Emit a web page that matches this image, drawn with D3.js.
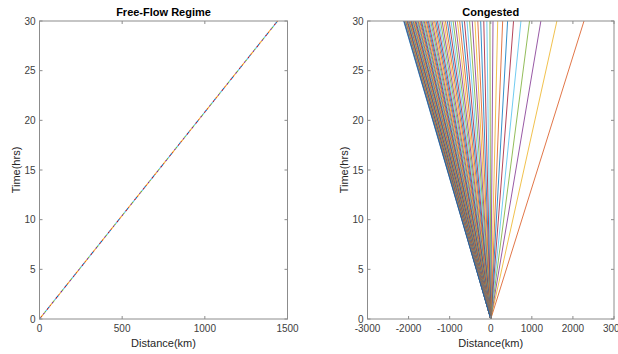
<!DOCTYPE html>
<html>
<head>
<meta charset="utf-8">
<script src="https://cdn.jsdelivr.net/npm/d3@7"></script>
<style>
  body { margin: 0; background: #fff; }
  svg { display: block; font-family: "Liberation Sans", Arial, sans-serif; }
</style>
</head>
<body>
<div id="chart"></div>
<script>
// MATLAB default colour order
const lineColors = ["#0072BD", "#D95319", "#EDB120", "#7E2F8E", "#77AC30", "#4DBEEE", "#A2142F"];

// free-flow: all trajectories lie on the same line, end point at t = 30
const freeFlowEnd = [1440, 30];
const freeFlowCount = 7;

// congested: distance reached at t = 30 for each characteristic (right to left)
const congestedEnds = [2270, 1610, 1220, 945, 735, 555, 410, 290, 170, 55,
  -20, -95, -170, -245, -315, -385, -450, -515, -578, -640, -700, -757, -812,
  -865, -916, -965, -1012, -1058, -1102, -1144, -1185, -1224, -1262, -1298,
  -1333, -1367, -1400, -1431, -1461, -1490, -1518, -1545, -1571, -1596, -1620,
  -1643, -1666, -1688, -1709, -1730, -1750, -1769, -1788, -1806, -1824, -1841,
  -1858, -1874, -1890, -1905, -1920, -1935, -1949, -1963, -1977, -1990, -2003,
  -2016, -2028, -2040, -2052, -2064, -2076, -2088, -2099, -2110, -2120];
const tEnd = 30;

const xTicksLeft = [0, 500, 1000, 1500];
const xTicksRight = [-3000, -2000, -1000, 0, 1000, 2000, 3000];
const yTicks = [0, 5, 10, 15, 20, 25, 30];

const svg = d3.select('#chart').append('svg')
  .attr('width', 618).attr('height', 354);

function drawAxes(g, x, y, xTicks, title) {
  const [xa, xb] = x.range();
  const [yb, ya] = y.range();
  g.append('rect')
    .attr('x', xa).attr('y', ya).attr('width', xb - xa).attr('height', yb - ya)
    .attr('fill', '#fff');
  return function finish() {
    const ax = g.append('g');
    ax.append('rect')
      .attr('x', xa).attr('y', ya).attr('width', xb - xa).attr('height', yb - ya)
      .attr('fill', 'none').attr('stroke', '#8c8c8c').attr('stroke-width', 1);
    // ticks inside, on all four sides
    xTicks.forEach(v => {
      ax.append('line').attr('x1', x(v)).attr('x2', x(v)).attr('y1', yb).attr('y2', yb - 3)
        .attr('stroke', '#8c8c8c');
      ax.append('line').attr('x1', x(v)).attr('x2', x(v)).attr('y1', ya).attr('y2', ya + 3)
        .attr('stroke', '#8c8c8c');
      ax.append('text').attr('x', x(v)).attr('y', yb + 13)
        .attr('text-anchor', 'middle').attr('font-size', 10).attr('fill', '#404040')
        .text(v);
    });
    yTicks.forEach(v => {
      ax.append('line').attr('x1', xa).attr('x2', xa + 3).attr('y1', y(v)).attr('y2', y(v))
        .attr('stroke', '#8c8c8c');
      ax.append('line').attr('x1', xb).attr('x2', xb - 3).attr('y1', y(v)).attr('y2', y(v))
        .attr('stroke', '#8c8c8c');
      ax.append('text').attr('x', xa - 4).attr('y', y(v) + 3.5)
        .attr('text-anchor', 'end').attr('font-size', 10).attr('fill', '#404040')
        .text(v);
    });
    ax.append('text').attr('x', (xa + xb) / 2).attr('y', yb + 28)
      .attr('text-anchor', 'middle').attr('font-size', 11).attr('fill', '#262626')
      .text('Distance(km)');
    ax.append('text')
      .attr('transform', `translate(${xa - 20},${(ya + yb) / 2}) rotate(-90)`)
      .attr('text-anchor', 'middle').attr('font-size', 11).attr('fill', '#262626')
      .text('Time(hrs)');
    ax.append('text').attr('x', (xa + xb) / 2).attr('y', ya - 5)
      .attr('text-anchor', 'middle').attr('font-size', 11).attr('font-weight', 'bold')
      .attr('fill', '#000').text(title);
  };
}

// left panel
const xL = d3.scaleLinear().domain([0, 1500]).range([39.5, 287.5]);
const yL = d3.scaleLinear().domain([0, 30]).range([319, 21]);
const gL = svg.append('g');
const finishL = drawAxes(gL, xL, yL, xTicksLeft, 'Free-Flow Regime');
const line = d3.line();
d3.range(freeFlowCount).forEach(i => {
  gL.append('path')
    .attr('d', line([[xL(0), yL(0)], [xL(freeFlowEnd[0]), yL(freeFlowEnd[1])]]))
    .attr('stroke', lineColors[i % 7]).attr('stroke-width', 1.1).attr('fill', 'none')
    .attr('stroke-dasharray', `2,${2 * (freeFlowCount - 1)}`)
    .attr('stroke-dashoffset', -2 * i);
});
finishL();

// right panel
const xR = d3.scaleLinear().domain([-3000, 3000]).range([367.5, 614]);
const yR = d3.scaleLinear().domain([0, 30]).range([319, 21]);
const gR = svg.append('g');
const finishR = drawAxes(gR, xR, yR, xTicksRight, 'Congested');
const gLines = gR.append('g');
congestedEnds.forEach((d, i) => {
  gLines.append('path')
    .attr('d', line([[xR(0), yR(0)], [xR(d), yR(tEnd)]]))
    .attr('stroke', lineColors[(i + 1) % 7]).attr('stroke-width', 0.8).attr('fill', 'none');
});
finishR();
</script>
</body>
</html>
